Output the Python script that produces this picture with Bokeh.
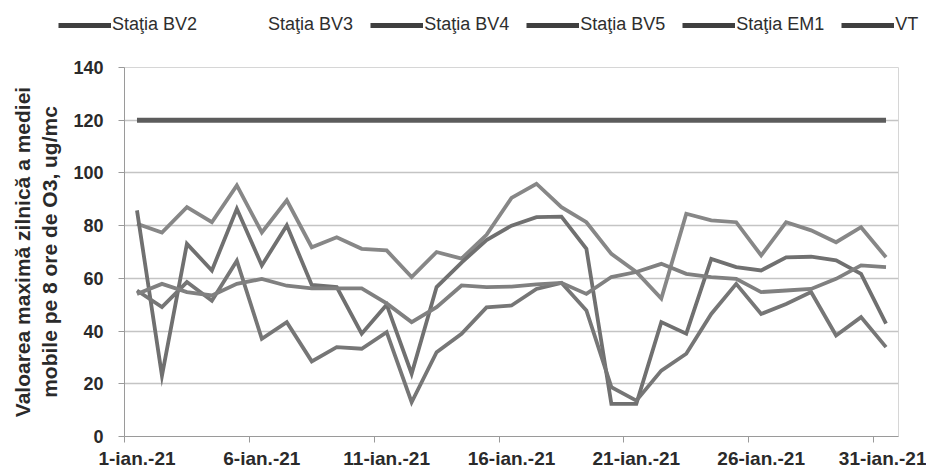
from bokeh.plotting import figure
from bokeh.layouts import column
from bokeh.models import Range1d, FixedTicker, Legend, LegendItem, ColumnDataSource
from bokeh.embed import file_html
from bokeh.resources import INLINE

# ---- data ----
days = list(range(1, 32))
tick_days = [1, 6, 11, 16, 21, 26, 31]
tick_labels = ["1-ian.-21", "6-ian.-21", "11-ian.-21", "16-ian.-21",
               "21-ian.-21", "26-ian.-21", "31-ian.-21"]
y_ticks = [0, 20, 40, 60, 80, 100, 120, 140]

bv2 = [80.7, 77.4, 87.0, 81.3, 95.3, 77.4, 89.6, 71.8, 75.6, 71.2, 70.6,
       60.5, 70.0, 67.5, 76.5, 90.5, 95.9, 87.0, 81.3, 69.3, 62.4, 52.3,
       84.5, 82.0, 81.3, 68.7, 81.3, 78.2, 73.7, 79.4, 68.0]
bv3 = []  # no visible data in the chart
bv4 = [85.8, 23.1, 73.1, 63.0, 86.4, 64.9, 80.1, 57.5, 56.7, 39.0, 50.0,
       23.8, 56.7, 66.0, 74.5, 80.0, 83.2, 83.4, 71.2, 12.4, 12.4, 43.4,
       39.0, 67.4, 64.3, 63.0, 68.0, 68.2, 66.8, 61.7, 42.8]
bv5 = [55.4, 49.1, 58.6, 51.5, 66.7, 37.1, 43.4, 28.5, 33.9, 33.3, 39.6,
       13.0, 32.0, 39.0, 49.0, 49.7, 56.0, 58.3, 47.8, 18.7, 13.6, 25.0,
       31.4, 46.5, 57.9, 46.5, 50.3, 54.8, 38.3, 45.3, 33.9]
em1 = [54.1, 57.9, 54.8, 53.5, 57.9, 59.8, 57.2, 56.2, 56.2, 56.2, 50.5,
       43.4, 49.1, 57.3, 56.7, 56.9, 57.7, 58.3, 54.1, 60.5, 62.4, 65.5,
       61.7, 60.5, 59.8, 54.8, 55.4, 56.0, 59.8, 64.9, 64.3]
vt = [120, 120, 120, 120, 120, 120, 120, 120, 120, 120, 120, 120, 120, 120,
      120, 120, 120, 120, 120, 120, 120, 120, 120, 120, 120, 120, 120, 120,
      120, 120, 120]

# name, values, plot colour, plot width, legend colour
series = [
    ("Staţia BV2", bv2, "#878787", 3.8, "#3f3f3f"),
    ("Staţia BV3", bv3, "#dcdcdc", 3.8, "#e2e2e2"),
    ("Staţia BV4", bv4, "#707070", 3.8, "#3f3f3f"),
    ("Staţia BV5", bv5, "#767676", 3.8, "#3f3f3f"),
    ("Staţia EM1", em1, "#808080", 3.8, "#3f3f3f"),
    ("VT", vt, "#5c5c5c", 5, "#3f3f3f"),
]

FONT = "Liberation Sans"
W = 926

# ---- main chart ----
p = figure(frame_width=774, frame_height=369, output_backend="svg",
           toolbar_location=None, tools="",
           x_range=Range1d(1, 32), y_range=Range1d(0, 140),
           min_border_left=124, min_border_right=28,
           min_border_top=22, min_border_bottom=30)
p.frame_align = False
p.background_fill_color = "white"
p.border_fill_color = "white"
p.outline_line_color = "#d6d6d6"

# ---- legend strip (same series, drawn outside its visible range) ----
lg = figure(width=W, height=45, output_backend="svg", toolbar_location=None,
            tools="", x_range=Range1d(1000, 1001), y_range=Range1d(0, 140),
            x_axis_location=None, y_axis_location=None,
            min_border_left=0, min_border_right=0, min_border_top=0,
            min_border_bottom=0)
lg.frame_align = False
lg.outline_line_color = None
lg.grid.visible = False
lg.background_fill_color = "white"
lg.border_fill_color = "white"

items = []
for name, vals, color, lw, lcolor in series:
    xs = [d + 0.5 for d in days[:len(vals)]]
    src = ColumnDataSource(dict(x=xs, y=vals))
    p.line("x", "y", source=src, line_color=color, line_width=lw,
           line_join="miter")
    r2 = lg.line("x", "y", source=src, line_color=lcolor, line_width=5)
    items.append(LegendItem(label=name, renderers=[r2]))

# x axis: labels centred on the day, tick marks on day boundaries
xa = p.xaxis[0]
xa.ticker = FixedTicker(ticks=[d + 0.5 for d in tick_days], minor_ticks=tick_days)
xa.major_label_overrides = {d + 0.5: lab for d, lab in zip(tick_days, tick_labels)}
xa.major_tick_out = 0
xa.major_tick_in = 0
xa.minor_tick_out = 6
xa.minor_tick_in = 0
xa.minor_tick_line_color = "#9a9a9a"
xa.axis_line_color = "#9a9a9a"
xa.major_label_text_font = FONT
xa.major_label_text_font_style = "bold"
xa.major_label_text_font_size = "19px"
xa.major_label_text_color = "#2a2a2a"
xa.major_label_standoff = 5
p.xgrid.visible = False

ya = p.yaxis[0]
ya.ticker = FixedTicker(ticks=y_ticks)
ya.minor_tick_line_color = None
ya.major_tick_out = 6
ya.major_tick_in = 0
ya.major_tick_line_color = "#9a9a9a"
ya.axis_line_color = "#9a9a9a"
ya.major_label_text_font = FONT
ya.major_label_text_font_style = "bold"
ya.major_label_text_font_size = "18px"
ya.major_label_text_color = "#2a2a2a"
ya.major_label_standoff = 15
ya.axis_label = "Valoarea maximă zilnică a mediei\nmobile pe 8 ore de O3, ug/mc"
ya.axis_label_text_font = FONT
ya.axis_label_text_font_style = "bold"
ya.axis_label_text_font_size = "21px"
ya.axis_label_text_color = "#2a2a2a"
ya.axis_label_standoff = 9

p.ygrid.grid_line_color = "#c4c4c4"
p.ygrid.grid_line_width = 1.3

legend = Legend(items=items, orientation="horizontal", location=(58, 10),
                glyph_width=53, glyph_height=20, label_height=20,
                label_standoff=1, spacing=17,
                padding=0, margin=0, border_line_color=None,
                background_fill_alpha=0,
                label_text_font=FONT, label_text_font_style="normal",
                label_text_font_size="18px", label_text_color="#2e2e2e")
lg.add_layout(legend, "center")

layout = column(lg, p, spacing=0)
open("out.html", "w").write(file_html(layout, INLINE))
